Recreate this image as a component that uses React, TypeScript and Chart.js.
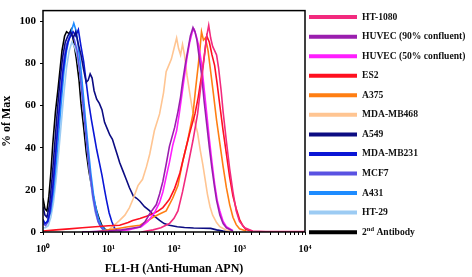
import React, { useEffect, useRef } from 'react';
import { Chart, registerables } from 'chart.js';

Chart.register(...registerables);

// ---- Data (x given as log10 of FL1-H intensity, y = % of Max) ----
const seriesLabels = [
  'HT-1080',
  'HUVEC (90% confluent)',
  'HUVEC (50% confluent)',
  'ES2',
  'A375',
  'MDA-MB468',
  'A549',
  'MDA-MB231',
  'MCF7',
  'A431',
  'HT-29',
  '2nd Antibody',
];

const seriesColors = [
  '#F22A7E',
  '#9A1EAE',
  '#FF1EFF',
  '#FF1020',
  '#FF7E12',
  '#FFC592',
  '#0C0C82',
  '#0A16D6',
  '#5A52E2',
  '#1E8CFF',
  '#9CCBF3',
  '#000000',
];

const ht1080: number[][] = [[1.5,0],[1.68,1],[1.8,2],[1.93,4],[2.0,6.5],[2.06,10],[2.13,19],[2.21,31],[2.29,43.5],[2.36,56],[2.42,72],[2.47,85],[2.5,93],[2.53,98],[2.56,92],[2.59,88],[2.62,86],[2.65,84],[2.68,78],[2.72,67],[2.75,57],[2.8,43],[2.85,30],[2.9,19],[2.95,10],[3.0,5],[3.08,2],[3.2,0.5],[3.4,0.2],[4.0,0.2]];
const huvec90: number[][] = [[0.6,0],[1.0,0.5],[1.2,1],[1.48,2.4],[1.56,5],[1.63,8.7],[1.73,13],[1.78,18],[1.83,24],[1.88,32],[1.93,40.6],[2.01,49.6],[2.06,57],[2.1,64],[2.13,71],[2.17,79],[2.21,86],[2.25,93],[2.29,97],[2.32,95],[2.35,91],[2.38,84],[2.42,75],[2.46,62],[2.5,51],[2.54,40],[2.58,30],[2.62,21],[2.65,15],[2.7,8],[2.75,4],[2.8,2],[2.9,0.5]];
const huvec50: number[][] = [[0.6,0],[1.0,0.3],[1.3,1],[1.5,2.5],[1.6,5],[1.7,9],[1.78,14],[1.83,19],[1.88,26],[1.93,33],[1.98,41],[2.04,48],[2.08,56],[2.12,65],[2.16,74],[2.2,83],[2.24,90],[2.28,95],[2.31,96],[2.34,93],[2.38,88],[2.42,80],[2.46,68],[2.5,56],[2.54,44],[2.58,33],[2.62,23],[2.66,15],[2.7,10],[2.75,5],[2.8,2.5],[2.9,0.6]];
const es2: number[][] = [[0,0.5],[0.2,1],[0.4,1.5],[0.6,2],[0.8,2.5],[1.0,3],[1.17,3.2],[1.3,4.5],[1.37,5.5],[1.48,6.4],[1.58,7.5],[1.68,8.7],[1.76,10],[1.83,11.6],[1.88,13.5],[1.93,15.5],[2.01,20.7],[2.09,28],[2.16,37],[2.24,47],[2.32,56],[2.37,64],[2.42,74],[2.46,83],[2.5,93],[2.54,90],[2.58,84],[2.62,79],[2.66,70],[2.7,60],[2.75,48],[2.8,37],[2.85,26],[2.9,17],[2.95,11],[3.0,6],[3.05,3],[3.1,1.2],[3.2,0.3]];
const a375: number[][] = [[0.8,0],[1.0,1],[1.17,1.8],[1.3,2.5],[1.48,3.2],[1.58,5],[1.68,7],[1.78,8.5],[1.88,10],[1.98,16],[2.06,22],[2.13,33],[2.21,43.5],[2.29,56],[2.33,68],[2.37,79],[2.4,88],[2.42,95],[2.45,91],[2.48,92],[2.52,86],[2.56,76],[2.6,66],[2.65,53],[2.7,42],[2.75,31],[2.8,21],[2.85,13],[2.9,7],[2.95,3.5],[3.0,1.5],[3.1,0.5]];
const mdamb468: number[][] = [[0.9,0],[1.0,1],[1.08,3],[1.17,5.5],[1.25,8],[1.32,11.6],[1.38,16],[1.45,22],[1.52,25],[1.58,31],[1.63,37],[1.7,48],[1.78,56],[1.84,66],[1.88,76],[1.92,79],[1.96,82],[2.0,87],[2.04,92],[2.07,87],[2.1,84],[2.13,89],[2.16,84],[2.2,74],[2.24,66],[2.27,60],[2.32,52],[2.36,47],[2.4,39],[2.44,32],[2.48,24],[2.51,18],[2.55,12],[2.59,8],[2.65,4.5],[2.7,2.5],[2.8,0.8],[2.9,0.2]];
const a549: number[][] = [[0,12],[0.03,8],[0.06,7],[0.1,13],[0.14,26],[0.18,42],[0.22,58],[0.26,72],[0.3,83],[0.34,90],[0.38,93],[0.42,95],[0.46,92],[0.5,95],[0.54,89],[0.58,84],[0.62,77],[0.66,71],[0.69,72],[0.72,75],[0.75,73],[0.78,67],[0.82,63],[0.86,61],[0.9,58],[0.94,52],[0.98,49],[1.02,46],[1.06,44],[1.1,40],[1.14,36],[1.17,33],[1.22,29],[1.27,25],[1.32,21],[1.38,17],[1.43,16],[1.48,14.6],[1.55,12],[1.63,10],[1.7,7.5],[1.78,5.5],[1.85,4],[1.93,3.2],[2.05,2.5],[2.16,2.1],[2.3,1.9],[2.45,1.8],[2.56,1.7],[2.65,1],[2.75,0.4],[2.85,0]];
const mdamb231: number[][] = [[0,6],[0.03,4],[0.07,5],[0.1,9],[0.14,18],[0.18,32],[0.22,48],[0.26,62],[0.3,75],[0.34,84],[0.38,90],[0.42,93],[0.46,95],[0.5,93],[0.54,96],[0.58,88],[0.62,81],[0.66,71],[0.7,61],[0.74,53],[0.78,46],[0.82,39],[0.86,33],[0.9,27],[0.94,20],[0.97,15],[1.01,9],[1.05,5],[1.09,2],[1.13,0.8],[1.2,0.3]];
const mcf7: number[][] = [[0,4],[0.04,3],[0.08,5],[0.12,12],[0.16,24],[0.2,40],[0.24,56],[0.28,70],[0.32,82],[0.36,89],[0.4,92],[0.44,94],[0.48,91],[0.52,86],[0.56,76],[0.6,64],[0.64,51],[0.68,38],[0.72,27],[0.76,17],[0.8,10],[0.84,5],[0.88,2.5],[0.92,1],[0.96,0.4]];
const a431: number[][] = [[0,5],[0.04,4],[0.08,6],[0.12,10],[0.16,19],[0.2,32],[0.24,47],[0.28,62],[0.32,76],[0.36,86],[0.4,92],[0.44,96],[0.47,99],[0.5,96],[0.53,90],[0.57,80],[0.61,67],[0.65,53],[0.69,40],[0.73,28],[0.77,18],[0.81,11],[0.85,6],[0.89,3],[0.93,1.5],[0.98,0.5]];
const ht29: number[][] = [[0,2],[0.04,2],[0.08,3],[0.12,7],[0.16,14],[0.2,25],[0.24,38],[0.28,52],[0.32,66],[0.36,78],[0.4,86],[0.44,90],[0.48,88],[0.52,84],[0.56,76],[0.6,64],[0.64,51],[0.68,38],[0.72,26],[0.76,16],[0.8,9],[0.84,5],[0.88,2.5],[0.92,1],[0.97,0.3]];
const secondAb: number[][] = [[0,16],[0.03,11],[0.06,10],[0.09,17],[0.12,28],[0.15,42],[0.19,57],[0.23,68],[0.26,77],[0.29,86],[0.33,93],[0.36,95],[0.4,94],[0.43,96],[0.47,90],[0.51,82],[0.55,72],[0.58,61],[0.62,50],[0.66,38],[0.7,29],[0.74,22],[0.78,15],[0.82,10],[0.86,6],[0.9,3],[0.94,1.5],[1.0,0.5]];

const seriesData = [ht1080, huvec90, huvec50, es2, a375, mdamb468, a549, mdamb231, mcf7, a431, ht29, secondAb];

const xTickLabels = ['10\u2070', '10\u00B9', '10\u00B2', '10\u00B3', '10\u2074'];
const yTicks = [0, 20, 40, 60, 80, 100];

const FONT = "'Liberation Serif', 'Times New Roman', serif";
const LEGEND_SIZE = 9.6;

const framePlugin = {
  id: 'frame',
  afterDatasetsDraw(chart: any) {
    const { ctx, chartArea } = chart;
    ctx.save();
    ctx.strokeStyle = '#000';
    ctx.lineWidth = 1.5;
    ctx.strokeRect(chartArea.left, chartArea.top, chartArea.right - chartArea.left, chartArea.bottom - chartArea.top);
    ctx.restore();
  },
};

const legendPlugin = {
  id: 'sideLegend',
  afterDraw(chart: any) {
    const { ctx, chartArea } = chart;
    const x0 = chartArea.right + 4;
    const x1 = x0 + 48;
    const tx = x1 + 5;
    ctx.save();
    chart.data.datasets.forEach((ds: any, i: number) => {
      const y = chartArea.top + 6.5 + i * 19.55;
      ctx.strokeStyle = ds.borderColor;
      ctx.lineWidth = 4;
      ctx.beginPath();
      ctx.moveTo(x0, y);
      ctx.lineTo(x1, y);
      ctx.stroke();
      ctx.fillStyle = '#111';
      ctx.textBaseline = 'middle';
      ctx.textAlign = 'left';
      const label: string = ds.label;
      const m = label.match(/^(\d+)(st|nd|rd|th)(.*)$/);
      ctx.font = `bold ${LEGEND_SIZE}px ${FONT}`;
      if (m) {
        ctx.fillText(m[1], tx, y);
        let cx = tx + ctx.measureText(m[1]).width;
        ctx.font = `bold 6.5px ${FONT}`;
        ctx.fillText(m[2], cx, y - 3);
        cx += ctx.measureText(m[2]).width;
        ctx.font = `bold ${LEGEND_SIZE}px ${FONT}`;
        ctx.fillText(m[3], cx, y);
      } else {
        ctx.fillText(label, tx, y);
      }
    });
    ctx.restore();
  },
};

export default function App() {
  const canvasRef = useRef<HTMLCanvasElement | null>(null);

  useEffect(() => {
    if (!canvasRef.current) return;
    const datasets = seriesLabels.map((label, i) => ({
      label,
      data: seriesData[i].map(([lx, y]) => ({ x: Math.pow(10, lx), y })),
      borderColor: seriesColors[i],
      backgroundColor: seriesColors[i],
      borderWidth: 1.6,
      pointRadius: 0,
      tension: 0,
      fill: false,
    }));

    const chart = new Chart(canvasRef.current, {
      type: 'line',
      data: { datasets },
      options: {
        animation: false,
        responsive: false,
        devicePixelRatio: 1,
        layout: { padding: { top: 2, right: 167, left: 0, bottom: 0 } },
        plugins: {
          legend: { display: false },
          tooltip: { enabled: false },
        },
        scales: {
          x: {
            type: 'logarithmic',
            min: 1,
            max: 10000,
            afterFit: (s: any) => { s.height = 45; },
            ticks: {
              autoSkip: false,
              maxRotation: 0,
              padding: 8,
              color: '#000',
              font: { family: FONT, weight: 'bold', size: 10 },
              callback: (value: any) => {
                const l = Math.log10(Number(value));
                if (Math.abs(l - Math.round(l)) < 1e-9) return xTickLabels[Math.round(l)] ?? '';
                return '';
              },
            },
            grid: { display: true, drawOnChartArea: false, drawTicks: true, tickLength: 3, color: '#000', lineWidth: 1 },
            border: { display: false },
            title: {
              display: true,
              text: 'FL1-H (Anti-Human APN)',
              color: '#000',
              font: { family: FONT, weight: 'bold', size: 12 },
              padding: { top: 0, bottom: 1 },
            },
          },
          y: {
            type: 'linear',
            min: 0,
            max: 105,
            afterFit: (s: any) => { s.width = 43; },
            afterBuildTicks: (s: any) => { s.ticks = yTicks.map((v) => ({ value: v })); },
            ticks: {
              color: '#000',
              padding: 4,
              font: { family: FONT, weight: 'bold', size: 11 },
            },
            grid: { display: true, drawOnChartArea: false, drawTicks: true, tickLength: 3, color: '#000' },
            border: { display: false },
            title: {
              display: true,
              text: '% of Max',
              color: '#000',
              font: { family: FONT, weight: 'bold', size: 12 },
              padding: { top: 0, bottom: 0 },
            },
          },
        },
      } as any,
      plugins: [framePlugin, legendPlugin],
    });
    return () => chart.destroy();
  }, []);

  return (
    <div style={{ position: 'fixed', left: 0, top: 0, width: 472, height: 277, background: '#fff' }}>
      <canvas ref={canvasRef} width={472} height={277} style={{ display: 'block' }} />
    </div>
  );
}
